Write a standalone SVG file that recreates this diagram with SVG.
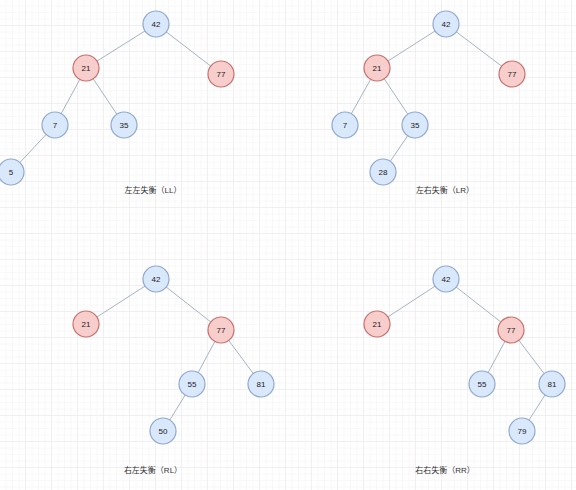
<svg xmlns="http://www.w3.org/2000/svg" width="576" height="490" viewBox="0 0 576 490">
<style>
.b{fill:#dae8fc;stroke:#8fa9cf;stroke-width:1.2}
.r{fill:#f8cecc;stroke:#c8706c;stroke-width:1.2}
.t{font-family:"Liberation Sans",Arial,sans-serif;font-size:8px;fill:#222;text-anchor:middle;dominant-baseline:central}
.lb{font-family:"Liberation Sans","Noto Sans CJK SC",sans-serif;font-size:8px;fill:#333;text-anchor:middle;dominant-baseline:central}
#edges line{stroke:#a7b4c2;stroke-width:1}
</style>
<defs>
<pattern id="minor" width="6.5" height="6.5" patternUnits="userSpaceOnUse">
<path d="M6.5 0V6.5M0 6.5H6.5" fill="none" stroke="#f3f1f5" stroke-width="1"/>
</pattern>
<pattern id="major" width="26" height="26" patternUnits="userSpaceOnUse">
<rect width="26" height="26" fill="url(#minor)"/>
<path d="M26 0V26M0 26H26" fill="none" stroke="#eae7ee" stroke-width="1"/>
</pattern>
</defs>
<rect width="576" height="490" fill="#ffffff"/>
<rect width="576" height="490" fill="url(#major)"/>
<g id="edges">
<line x1="156" y1="24" x2="86" y2="68"/>
<line x1="156" y1="24" x2="221" y2="74"/>
<line x1="86" y1="68" x2="55" y2="125"/>
<line x1="86" y1="68" x2="124" y2="125"/>
<line x1="55" y1="125" x2="11" y2="172"/>
<line x1="446" y1="24" x2="377" y2="68"/>
<line x1="446" y1="24" x2="512" y2="74"/>
<line x1="377" y1="68" x2="345" y2="125"/>
<line x1="377" y1="68" x2="415" y2="125"/>
<line x1="415" y1="125" x2="383" y2="172"/>
<line x1="156" y1="279" x2="86" y2="324"/>
<line x1="156" y1="279" x2="221" y2="330"/>
<line x1="221" y1="330" x2="192" y2="384"/>
<line x1="221" y1="330" x2="261" y2="384"/>
<line x1="192" y1="384" x2="163" y2="431"/>
<line x1="446" y1="279" x2="377" y2="324"/>
<line x1="446" y1="279" x2="511" y2="330"/>
<line x1="511" y1="330" x2="482" y2="384"/>
<line x1="511" y1="330" x2="552" y2="384"/>
<line x1="552" y1="384" x2="522" y2="431"/>
</g>
<g id="ll-42"><circle class="b" cx="156" cy="24" r="13"/><text class="t" x="156" y="24">42</text></g>
<g id="ll-21"><circle class="r" cx="86" cy="68" r="13"/><text class="t" x="86" y="68">21</text></g>
<g id="ll-77"><circle class="r" cx="221" cy="74" r="13"/><text class="t" x="221" y="74">77</text></g>
<g id="ll-7"><circle class="b" cx="55" cy="125" r="13"/><text class="t" x="55" y="125">7</text></g>
<g id="ll-35"><circle class="b" cx="124" cy="125" r="13"/><text class="t" x="124" y="125">35</text></g>
<g id="ll-5"><circle class="b" cx="11" cy="172" r="13"/><text class="t" x="11" y="172">5</text></g>
<g id="ll-label"><text class="lb" x="153" y="190">左左失衡（LL）</text></g>
<g id="lr-42"><circle class="b" cx="446" cy="24" r="13"/><text class="t" x="446" y="24">42</text></g>
<g id="lr-21"><circle class="r" cx="377" cy="68" r="13"/><text class="t" x="377" y="68">21</text></g>
<g id="lr-77"><circle class="r" cx="512" cy="74" r="13"/><text class="t" x="512" y="74">77</text></g>
<g id="lr-7"><circle class="b" cx="345" cy="125" r="13"/><text class="t" x="345" y="125">7</text></g>
<g id="lr-35"><circle class="b" cx="415" cy="125" r="13"/><text class="t" x="415" y="125">35</text></g>
<g id="lr-28"><circle class="b" cx="383" cy="172" r="13"/><text class="t" x="383" y="172">28</text></g>
<g id="lr-label"><text class="lb" x="445" y="190">左右失衡（LR）</text></g>
<g id="rl-42"><circle class="b" cx="156" cy="279" r="13"/><text class="t" x="156" y="279">42</text></g>
<g id="rl-21"><circle class="r" cx="86" cy="324" r="13"/><text class="t" x="86" y="324">21</text></g>
<g id="rl-77"><circle class="r" cx="221" cy="330" r="13"/><text class="t" x="221" y="330">77</text></g>
<g id="rl-55"><circle class="b" cx="192" cy="384" r="13"/><text class="t" x="192" y="384">55</text></g>
<g id="rl-81"><circle class="b" cx="261" cy="384" r="13"/><text class="t" x="261" y="384">81</text></g>
<g id="rl-50"><circle class="b" cx="163" cy="431" r="13"/><text class="t" x="163" y="431">50</text></g>
<g id="rl-label"><text class="lb" x="153" y="470">右左失衡（RL）</text></g>
<g id="rr-42"><circle class="b" cx="446" cy="279" r="13"/><text class="t" x="446" y="279">42</text></g>
<g id="rr-21"><circle class="r" cx="377" cy="324" r="13"/><text class="t" x="377" y="324">21</text></g>
<g id="rr-77"><circle class="r" cx="511" cy="330" r="13"/><text class="t" x="511" y="330">77</text></g>
<g id="rr-55"><circle class="b" cx="482" cy="384" r="13"/><text class="t" x="482" y="384">55</text></g>
<g id="rr-81"><circle class="b" cx="552" cy="384" r="13"/><text class="t" x="552" y="384">81</text></g>
<g id="rr-79"><circle class="b" cx="522" cy="431" r="13"/><text class="t" x="522" y="431">79</text></g>
<g id="rr-label"><text class="lb" x="445" y="470">右右失衡（RR）</text></g>
</svg>
